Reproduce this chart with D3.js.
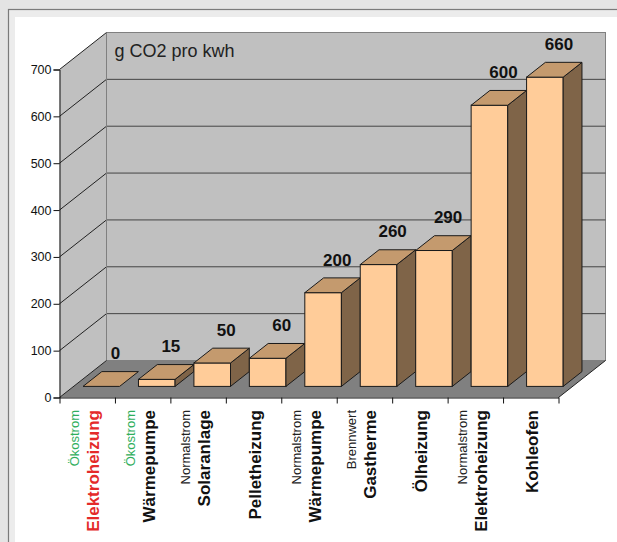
<!DOCTYPE html>
<html>
<head>
<meta charset="utf-8">
<script src="https://cdn.jsdelivr.net/npm/d3@7"></script>
<style>
  html, body { margin: 0; padding: 0; background: #e4e4e4; }
  svg { display: block; }
</style>
</head>
<body>
<svg id="chart" width="617" height="542"></svg>
<script>
// ---- data ----
const categories = ["Elektroheizung", "Wärmepumpe", "Solaranlage", "Pelletheizung", "Wärmepumpe", "Gastherme", "Ölheizung", "Elektroheizung", "Kohleofen"];
const subLabels  = ["Ökostrom", "Ökostrom", "Normalstrom", "", "Normalstrom", "Brennwert", "", "Normalstrom", ""];
const values     = [0, 15, 50, 60, 200, 260, 290, 600, 660];
const yTicks     = [0, 100, 200, 300, 400, 500, 600, 700];
const titleText  = "g CO2 pro kwh";

// ---- layout ----
const svg = d3.select("#chart");
const X0 = 59.5, X1 = 558.5, Y0 = 397.5, Y1 = 69.5;
const DX = 47, DY = -37;             // depth vector
const F_FRONT = 0.3, F_DEPTH = 0.4;  // bar depth position
const BAR_FRAC = 0.66;

const y = d3.scaleLinear().domain([0, 700]).range([Y0, Y1]);
const xb = d3.scaleBand().domain(d3.range(categories.length)).range([X0, X1]);
const xi = d3.scaleLinear().domain([0, categories.length]).range([X0, X1]);

// frame
svg.append("rect").attr("x", 0).attr("y", 0).attr("width", 617).attr("height", 542).attr("fill", "#e4e4e4");
svg.append("rect").attr("x", 8.5).attr("y", 9.5).attr("width", 640).attr("height", 560)
  .attr("fill", "#ececec").attr("stroke", "#7a7a7a").attr("stroke-width", 1.2);
svg.append("rect").attr("x", 15).attr("y", 17).attr("width", 640).attr("height", 560).attr("fill", "#ffffff");

const g = svg.append("g");

// back wall
const yTop = y(700), yBot = y(0);
g.append("rect")
  .attr("x", X0 + DX).attr("y", yTop + DY)
  .attr("width", X1 - X0).attr("height", yBot - yTop)
  .attr("fill", "#c0c0c0").attr("stroke", "#808080").attr("stroke-width", 1);

// side wall
g.append("polygon")
  .attr("points", [[X0, yTop], [X0 + DX, yTop + DY], [X0 + DX, yBot + DY], [X0, yBot]].map(p => p.join(",")).join(" "))
  .attr("fill", "#c0c0c0");

// grid lines on back wall and side wall
const gridVals = yTicks.filter(v => v > 0 && v < 700);
g.selectAll("line.gback").data(gridVals).join("line")
  .attr("x1", X0 + DX).attr("x2", X1 + DX)
  .attr("y1", d => y(d) + DY).attr("y2", d => y(d) + DY)
  .attr("stroke", "#444").attr("stroke-width", 1);
g.selectAll("line.gside").data(yTicks.filter(v => v > 0)).join("line")
  .attr("x1", X0).attr("x2", X0 + DX)
  .attr("y1", d => y(d)).attr("y2", d => y(d) + DY)
  .attr("stroke", "#222").attr("stroke-width", 1);
g.append("line").attr("x1", X0 + DX).attr("x2", X0 + DX).attr("y1", yTop + DY).attr("y2", yBot + DY)
  .attr("stroke", "#808080");

// title
g.append("text").attr("x", X0 + DX + 8).attr("y", 57)
  .attr("font-family", "'Liberation Sans', Arial, sans-serif").attr("font-size", 18)
  .attr("fill", "#222").text(titleText);

// floor
g.append("polygon")
  .attr("points", [[X0, yBot], [X1, yBot], [X1 + DX, yBot + DY], [X0 + DX, yBot + DY]].map(p => p.join(",")).join(" "))
  .attr("fill", "#808080");
g.append("line").attr("x1", X0).attr("y1", yBot).attr("x2", X0 + DX).attr("y2", yBot + DY).attr("stroke", "#222");
g.append("line").attr("x1", X1).attr("y1", yBot).attr("x2", X1 + DX).attr("y2", yBot + DY).attr("stroke", "#222");

// bars
const bw = xb.bandwidth() * BAR_FRAC;
const fx = F_FRONT * DX, fy = F_FRONT * DY;
const ddx = F_DEPTH * DX, ddy = F_DEPTH * DY;
const pts = a => a.map(p => p.join(",")).join(" ");
const bars = g.selectAll("g.bar").data(values).join("g").attr("class", "bar");
bars.each(function (v, i) {
  const sel = d3.select(this);
  const xl = xb(i) + (xb.bandwidth() - bw) / 2 + fx;
  const xr = xl + bw;
  const yt = y(v) + fy, yb = y(0) + fy;
  if (yb - yt > 0.5) {
    sel.append("rect").attr("x", xl).attr("y", yt).attr("width", bw).attr("height", yb - yt)
      .attr("fill", "#ffcc99").attr("stroke", "#1a1a1a").attr("stroke-width", 1);
    sel.append("polygon").attr("points", pts([[xr, yt], [xr + ddx, yt + ddy], [xr + ddx, yb + ddy], [xr, yb]]))
      .attr("fill", "#7f6448").attr("stroke", "#1a1a1a").attr("stroke-width", 1).attr("stroke-linejoin", "round");
  }
  sel.append("polygon").attr("points", pts([[xl, yt], [xr, yt], [xr + ddx, yt + ddy], [xl + ddx, yt + ddy]]))
    .attr("fill", "#c49a6e").attr("stroke", "#1a1a1a").attr("stroke-width", 1).attr("stroke-linejoin", "round");
});

// value labels
g.selectAll("text.val").data(values).join("text").attr("class", "val")
  .attr("x", (d, i) => xb(i) + xb.bandwidth() / 2 + 0.6 * DX)
  .attr("y", d => y(d) + 0.6 * DY - 16)
  .attr("text-anchor", "middle")
  .attr("font-family", "'Liberation Sans', Arial, sans-serif").attr("font-weight", "bold").attr("font-size", 17)
  .attr("fill", "#111").text(d => d);

// axes
const yAxis = d3.axisLeft(y).tickValues(yTicks).tickSize(6).tickPadding(2);
const ya = svg.append("g").attr("transform", `translate(${X0},0)`).call(yAxis);
ya.selectAll("text").attr("font-family", "'Liberation Sans', Arial, sans-serif").attr("font-size", 12.5).attr("fill", "#111");
ya.selectAll("line, path").attr("stroke", "#111");

const xAxis = d3.axisBottom(xi).tickValues(d3.range(categories.length + 1)).tickSize(6).tickSizeOuter(0).tickFormat("");
const xa = svg.append("g").attr("transform", `translate(0,${Y0})`).call(xAxis);
xa.selectAll("line, path").attr("stroke", "#111");

// category labels (rotated)
const LABEL_TOP = 410;
const cat = svg.selectAll("g.cat").data(categories).join("g").attr("class", "cat");
cat.each(function (name, i) {
  const cx = xb(i) + xb.bandwidth() / 2;
  const sub = subLabels[i];
  const sel = d3.select(this);
  const mainColor = i === 0 ? "#e42a2a" : "#111";
  const mainX = sub ? cx + 12 : cx + 7;
  sel.append("text")
    .attr("transform", `translate(${mainX},${LABEL_TOP}) rotate(-90)`)
    .attr("text-anchor", "end")
    .attr("font-family", "'Liberation Sans', Arial, sans-serif").attr("font-weight", "bold").attr("font-size", 17)
    .attr("fill", mainColor).text(name);
  if (sub) {
    sel.append("text")
      .attr("transform", `translate(${cx - 8},${LABEL_TOP}) rotate(-90)`)
      .attr("text-anchor", "end")
      .attr("font-family", "'Liberation Sans', Arial, sans-serif").attr("font-size", 13)
      .attr("fill", sub === "Ökostrom" ? "#2fae5c" : "#222").text(sub);
  }
});
</script>
</body>
</html>
